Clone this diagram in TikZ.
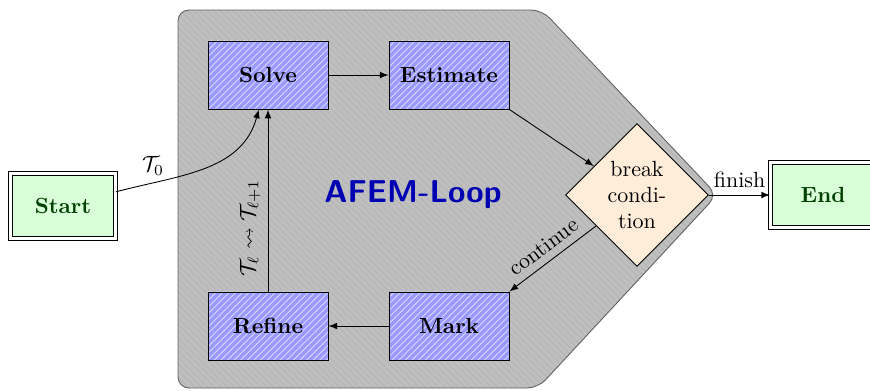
\documentclass[tikz,border=0pt]{standalone}
\usepackage{amssymb}
\usetikzlibrary{shapes.geometric,patterns,arrows}

\begin{document}
\begin{tikzpicture}[x=0.016cm, y=-0.016cm, >=latex]
            \tikzstyle{stepbox}=[rectangle, draw, preaction={fill=blue!40}, pattern=north east lines, pattern color=blue!15, minimum width=1.92cm, minimum height=1.09cm, font=\bfseries]
            \tikzstyle{termbox}=[rectangle, draw, double, double distance=1.2pt, fill=green!15, text=green!25!black, minimum width=1.68cm, minimum height=1.04cm, font=\bfseries]
            \tikzstyle{decision}=[diamond, draw, fill=orange!15, aspect=1, inner sep=0pt, minimum size=2.29cm, align=center]
            \tikzstyle{linenode}=[midway, sloped, above]
            \useasboundingbox (0,0) rectangle (870,390);
            \draw[gray!75!black, preaction={fill=gray!50}, pattern=north west lines, pattern color=gray!58, rounded corners=5pt] (178,10) -- (542,10) -- (717,195) -- (538,388) -- (178,388) -- cycle;
            \node[stepbox] (solve) at (268,75) {Solve};
            \node[stepbox] (est) at (449,75) {Estimate};
            \node[stepbox] (refine) at (268,326) {Refine};
            \node[stepbox] (mark) at (449,326) {Mark};
            \node[decision] (cond) at (637,195) {break\\condi-\\tion};
            \node[termbox] (start) at (63,206) {Start};
            \node[termbox] (end) at (823,195) {End};
            \node[text=blue!70!black, font=\Large\sffamily\bfseries] (loop) at (413,195) {AFEM-Loop};
            \path [->] (solve) edge[] (est);
            \path [->] (est.south east) edge[] (cond);
            \path [->] (cond) edge[] node[linenode] {continue} (mark.north east);
            \path [->] (mark) edge[] (refine);
            \path [->] (refine) edge[] node[linenode, pos=0.35] {$\mathcal{T}_\ell \leadsto \mathcal{T}_{\ell+1}$} (solve);
            \path [->] (start) edge[out=15, in=-105] node[pos=0.2, above] {$\mathcal{T}_0$} (solve);
            \path [->] (cond) edge[] node[above] {finish} (end);
        \end{tikzpicture}
\end{document}
